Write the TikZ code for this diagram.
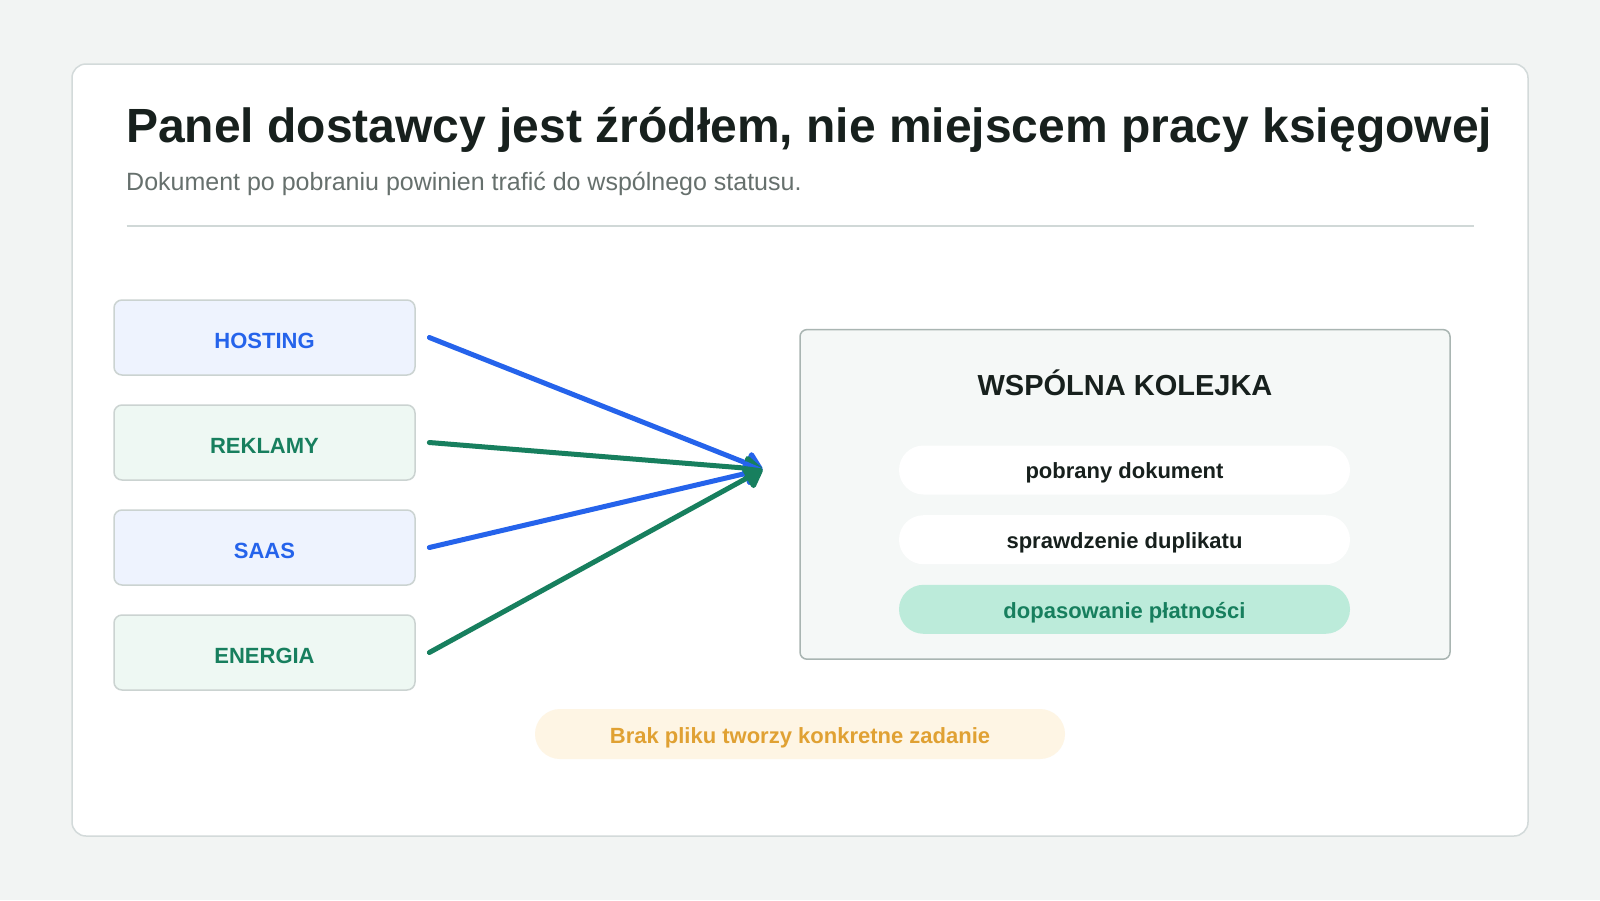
\documentclass[tikz,border=0pt]{standalone}
\usepackage{fontspec}
\setmainfont{Liberation Sans}
\usetikzlibrary{arrows.meta}
\definecolor{bg}{HTML}{F2F4F3}
\definecolor{cardline}{HTML}{D3DADA}
\definecolor{ink}{HTML}{17201D}
\definecolor{subgray}{HTML}{66706D}
\definecolor{rulec}{HTML}{D0D8D7}
\definecolor{boxline}{HTML}{CBD3D1}
\definecolor{bluec}{HTML}{2563EB}
\definecolor{bluebg}{HTML}{EEF3FE}
\definecolor{greenc}{HTML}{177F5E}
\definecolor{greenbg}{HTML}{EEF8F3}
\definecolor{panelbg}{HTML}{F5F8F7}
\definecolor{panelline}{HTML}{A9B5B2}
\definecolor{mintbg}{HTML}{BCEBDA}
\definecolor{amber}{HTML}{E0A133}
\definecolor{amberbg}{HTML}{FEF5E4}
\tikzset{
  srcbox/.style={draw=boxline, line width=1.5pt, rounded corners=8pt,
    minimum width=301pt, minimum height=75pt, inner sep=0pt,
    font=\fontsize{22}{26}\selectfont\bfseries, text height=21.6pt, text depth=0pt},
  pill/.style={inner sep=0pt, rounded corners=24.5pt, minimum width=451pt,
    minimum height=49pt, font=\fontsize{22}{26}\selectfont\bfseries,
    text height=17.6pt, text depth=0pt},
  flow/.style={line width=5pt, line cap=round,
    -{Triangle[length=20pt,width=28pt,round]}}
}
\begin{document}
\begin{tikzpicture}[x=1pt,y=-1pt]
\fill[bg] (0,0) rectangle (1600,900);
\useasboundingbox (0,0) rectangle (1600,900);
% card
\draw[fill=white, draw=cardline, line width=1.5pt, rounded corners=14pt] (72,64) rectangle (1528,836);
% title
\node[anchor=base west, inner sep=0pt, font=\fontsize{48}{56}\selectfont\bfseries, text=ink]
  (title) at (126,142.7) {Panel dostawcy jest źródłem, nie miejscem pracy księgowej};
\node[anchor=base west, inner sep=0pt, font=\fontsize{25}{30}\selectfont, text=subgray]
  (sub) at (126,190) {Dokument po pobraniu powinien trafić do wspólnego statusu.};
\draw[rulec, line width=2pt] (126.5,225.5) -- (1473.5,225.5);
% source boxes
\node[srcbox, fill=bluebg, text=bluec] (hosting) at (264.5,337.5) {HOSTING};
\node[srcbox, fill=greenbg, text=greenc] (reklamy) at (264.5,442.5) {REKLAMY};
\node[srcbox, fill=bluebg, text=bluec] (saas) at (264.5,547.5) {SAAS};
\node[srcbox, fill=greenbg, text=greenc] (energia) at (264.5,652.5) {ENERGIA};
% panel
\node[draw=panelline, fill=panelbg, line width=1.5pt, rounded corners=7pt,
  minimum width=650pt, minimum height=329.6pt, inner sep=0pt] (panel) at (1125,494.4) {};
\node[anchor=base, inner sep=0pt, font=\fontsize{29}{34}\selectfont\bfseries, text=ink]
  (qtitle) at (1125,395) {WSPÓLNA KOLEJKA};
\node[pill, fill=white, text=ink] (p1) at (1124.5,470) {pobrany dokument};
\node[pill, fill=white, text=ink] (p2) at (1124.5,539.7) {sprawdzenie duplikatu};
\node[pill, fill=mintbg, text=greenc] (p3) at (1124.5,609.3) {dopasowanie płatności};
% note
\node[pill, fill=amberbg, text=amber, minimum width=530pt, minimum height=50pt,
  rounded corners=25pt, text height=18.6pt] (note) at (800,734) {Brak pliku tworzy konkretne zadanie};
% arrows
\coordinate (tip) at (762.5,469.5);
\draw[flow, bluec] ([xshift=13.6pt]hosting.east) -- (tip);
\draw[flow, greenc] ([xshift=13.6pt]reklamy.east) -- (tip);
\draw[flow, bluec] ([xshift=13.6pt]saas.east) -- (tip);
\draw[flow, greenc] ([xshift=13.6pt]energia.east) -- (tip);
\end{tikzpicture}
\end{document}
